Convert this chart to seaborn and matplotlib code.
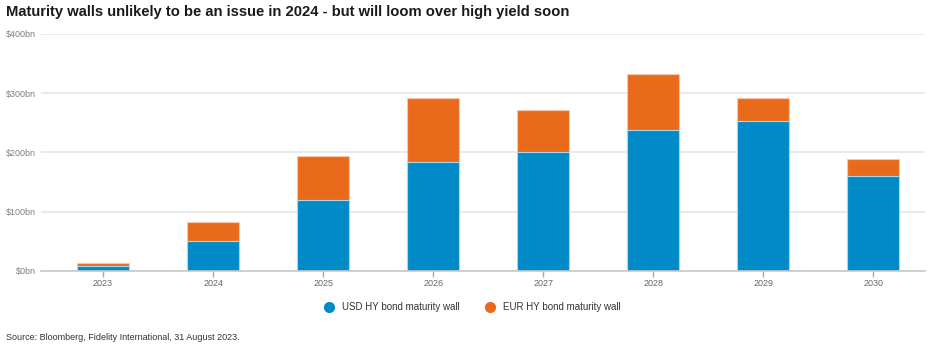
import numpy as np
import pandas as pd
import matplotlib
matplotlib.use("Agg")
import matplotlib.pyplot as plt
import seaborn as sns
from matplotlib.lines import Line2D

# 데이터 (그림에서 읽은 값, 단위 $bn)
years = ["2023", "2024", "2025", "2026", "2027", "2028", "2029", "2030"]
usd = [8, 51, 120, 184, 201, 238, 253, 160]
eur = [6, 32, 74, 108, 71, 94, 39, 29]

blue = "#008AC8"
orange = "#EA6A1C"

df = pd.DataFrame({"year": years, "usd": usd, "eur": eur})
df["total"] = df["usd"] + df["eur"]

sns.set_theme(style="white")
plt.rcParams['font.family'] = ['Liberation Sans', 'DejaVu Sans']

fig = plt.figure(figsize=(9.4, 3.53), dpi=100)
ax = fig.add_axes([0.0436, 0.2323, 0.9404, 0.6714])

# 누적 막대: 합계(주황) 위에 USD(파랑)
sns.barplot(data=df, x="year", y="total", color=orange, width=0.47,
            edgecolor="#F8C9A8", linewidth=0.8, saturation=1, ax=ax)
sns.barplot(data=df, x="year", y="usd", color=blue, width=0.47,
            edgecolor="#A9D8EE", linewidth=0.8, saturation=1, ax=ax)

ax.set_xlim(-0.564, 7.47)
ax.set_ylim(0, 400)
ax.set_yticks([0, 100, 200, 300, 400])
ax.set_yticklabels(["$0bn", "$100bn", "$200bn", "$300bn", "$400bn"])
ax.yaxis.grid(True, color="#E6E6E6", linewidth=1.2)
ax.set_axisbelow(True)
ax.set_xlabel("")
ax.set_ylabel("")
for s in ["top", "right", "left"]:
    ax.spines[s].set_visible(False)
ax.spines["bottom"].set_color("#C8C8C8")
ax.spines["bottom"].set_linewidth(1.2)
ax.tick_params(axis="y", length=0, labelsize=6.5, labelcolor="#808080", pad=4)
ax.tick_params(axis="x", length=4, width=1, color="#AAAAAA", labelsize=6.5,
               labelcolor="#666666", pad=2, bottom=True)

fig.text(0.006, 0.965, "Maturity walls unlikely to be an issue in 2024 - but will loom over high yield soon",
         fontsize=10.6, fontweight="bold", color="#1A1A1A", va="center", ha="left")
fig.text(0.006, 0.043, "Source: Bloomberg, Fidelity International, 31 August 2023.",
         fontsize=6.5, color="#333333", va="center", ha="left")

handles = [Line2D([], [], marker="o", linestyle="", markersize=7, color=blue),
           Line2D([], [], marker="o", linestyle="", markersize=7, color=orange)]
fig.legend(handles, ["USD HY bond maturity wall", "EUR HY bond maturity wall"],
           loc="center", bbox_to_anchor=(0.5, 0.13), ncol=2, frameon=False,
           fontsize=7, handletextpad=0.3, columnspacing=2.2, labelcolor="#333333")

fig.savefig("out.png", dpi=100)
